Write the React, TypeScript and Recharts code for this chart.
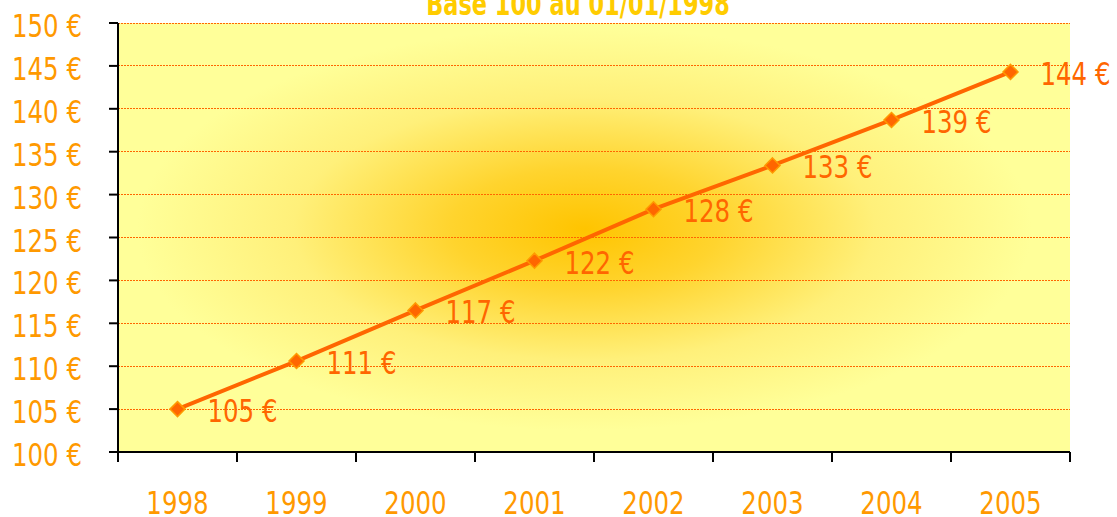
import React from "react"
import {
  LineChart,
  Line,
  XAxis,
  YAxis,
  CartesianGrid,
  LabelList,
} from "recharts"

const years = ["1998", "1999", "2000", "2001", "2002", "2003", "2004", "2005"]
const values = [105.0, 110.6, 116.5, 122.3, 128.3, 133.4, 138.7, 144.3]
const valueLabels = ["105 €", "111 €", "117 €", "122 €", "128 €", "133 €", "139 €", "144 €"]
const yTicks = [100, 105, 110, 115, 120, 125, 130, 135, 140, 145, 150]
const title = "Base 100 au 01/01/1998"

const data = years.map((year, i) => ({ year, value: values[i], label: valueLabels[i] }))

const W = 1117
const H = 517
const M = { top: 23, right: 47, bottom: 0, left: 0 }
const Y_W = 118
const X_H = 65
const PLOT_W = W - M.left - M.right - Y_W
const HALF_BAND = PLOT_W / years.length / 2

const FONT = '"DejaVu Sans Condensed", "DejaVu Sans", sans-serif'
const LABEL_ORANGE = "#ff9900"
const DARK_ORANGE = "#ff6600"
const SQUEEZE = 0.85

// the reference font is narrow, so the text is squeezed horizontally
function NarrowText({ x, y, anchor = "start", fill, size = 32, bold = false, children }: any) {
  return (
    <text
      transform={`translate(${x},${y}) scale(${SQUEEZE},1)`}
      textAnchor={anchor}
      fill={fill}
      fontSize={size}
      fontWeight={bold ? "bold" : "normal"}
      fontFamily={FONT}
    >
      {children}
    </text>
  )
}

function XTick(props: any) {
  const { x, y, payload, index } = props
  const last = index === years.length - 1
  return (
    <g>
      <line x1={x - HALF_BAND} y1={y} x2={x - HALF_BAND} y2={y + 10} stroke="#000" strokeWidth={2} />
      {last && <line x1={x + HALF_BAND} y1={y} x2={x + HALF_BAND} y2={y + 10} stroke="#000" strokeWidth={2} />}
      <NarrowText x={x} y={y + 62} anchor="middle" fill={LABEL_ORANGE}>
        {payload.value}
      </NarrowText>
    </g>
  )
}

function YTick(props: any) {
  const { x, y, payload } = props
  return (
    <NarrowText x={x} y={y + 14} anchor="end" fill={LABEL_ORANGE}>
      {`${payload.value} €`}
    </NarrowText>
  )
}

function Diamond(props: any) {
  const { cx, cy } = props
  if (cx == null || cy == null) return null
  const r = 7.5
  return (
    <polygon
      points={`${cx},${cy - r} ${cx + r},${cy} ${cx},${cy + r} ${cx - r},${cy}`}
      fill={DARK_ORANGE}
      stroke={LABEL_ORANGE}
      strokeWidth={1.5}
    />
  )
}

function ValueLabel(props: any) {
  const { x, y, index } = props
  return (
    <NarrowText x={x + 30} y={y + 13} fill={DARK_ORANGE}>
      {valueLabels[index]}
    </NarrowText>
  )
}

export default function App() {
  return (
    <div style={{ position: "absolute", left: 0, top: 0, width: W, height: H, background: "#fff", overflow: "hidden" }}>
      <LineChart width={W} height={H} data={data} margin={M}>
        <defs>
          <radialGradient id="bgGlow" cx="0.49" cy="0.48" r="0.47">
            <stop offset="0%" stopColor="#ffc400" />
            <stop offset="30%" stopColor="#ffd42e" />
            <stop offset="65%" stopColor="#fff07a" />
            <stop offset="100%" stopColor="#ffff99" />
          </radialGradient>
        </defs>
        <CartesianGrid
          vertical={false}
          fill="url(#bgGlow)"
          fillOpacity={1}
          stroke={DARK_ORANGE}
          strokeDasharray="2 1"
          shapeRendering="crispEdges"
          yAxisId="left"
        />
        <XAxis
          dataKey="year"
          scale="band"
          height={X_H}
          axisLine={{ stroke: "#000", strokeWidth: 2 }}
          tickLine={false}
          tickSize={0}
          tickMargin={0}
          tick={<XTick />}
          interval={0}
        />
        <XAxis xAxisId="top" orientation="top" dataKey="year" height={0} tick={false} tickLine={false} axisLine={{ stroke: "#808080", strokeWidth: 2 }} />
        <YAxis
          yAxisId="left"
          domain={[100, 150]}
          ticks={yTicks}
          width={Y_W}
          interval={0}
          axisLine={{ stroke: "#000", strokeWidth: 2 }}
          tickLine={{ stroke: "#000", strokeWidth: 2 }}
          tickSize={9}
          tickMargin={27}
          tick={<YTick />}
        />
        <YAxis yAxisId="right" orientation="right" width={0} domain={[100, 150]} tick={false} tickLine={false} axisLine={{ stroke: "#808080", strokeWidth: 3 }} />
        <Line
          yAxisId="left"
          type="linear"
          dataKey="value"
          stroke={DARK_ORANGE}
          strokeWidth={4}
          dot={<Diamond />}
          activeDot={false}
          isAnimationActive={false}
        >
          <LabelList dataKey="label" content={<ValueLabel />} />
        </Line>
      </LineChart>
      <svg width={W} height={40} style={{ position: "absolute", left: 0, top: 0 }}>
        <text
          transform={`translate(578,15) scale(0.78,1)`}
          textAnchor="middle"
          fill="#ffcc00"
          fontSize={32}
          fontWeight="bold"
          fontFamily={FONT}
        >
          {title}
        </text>
      </svg>
    </div>
  )
}
